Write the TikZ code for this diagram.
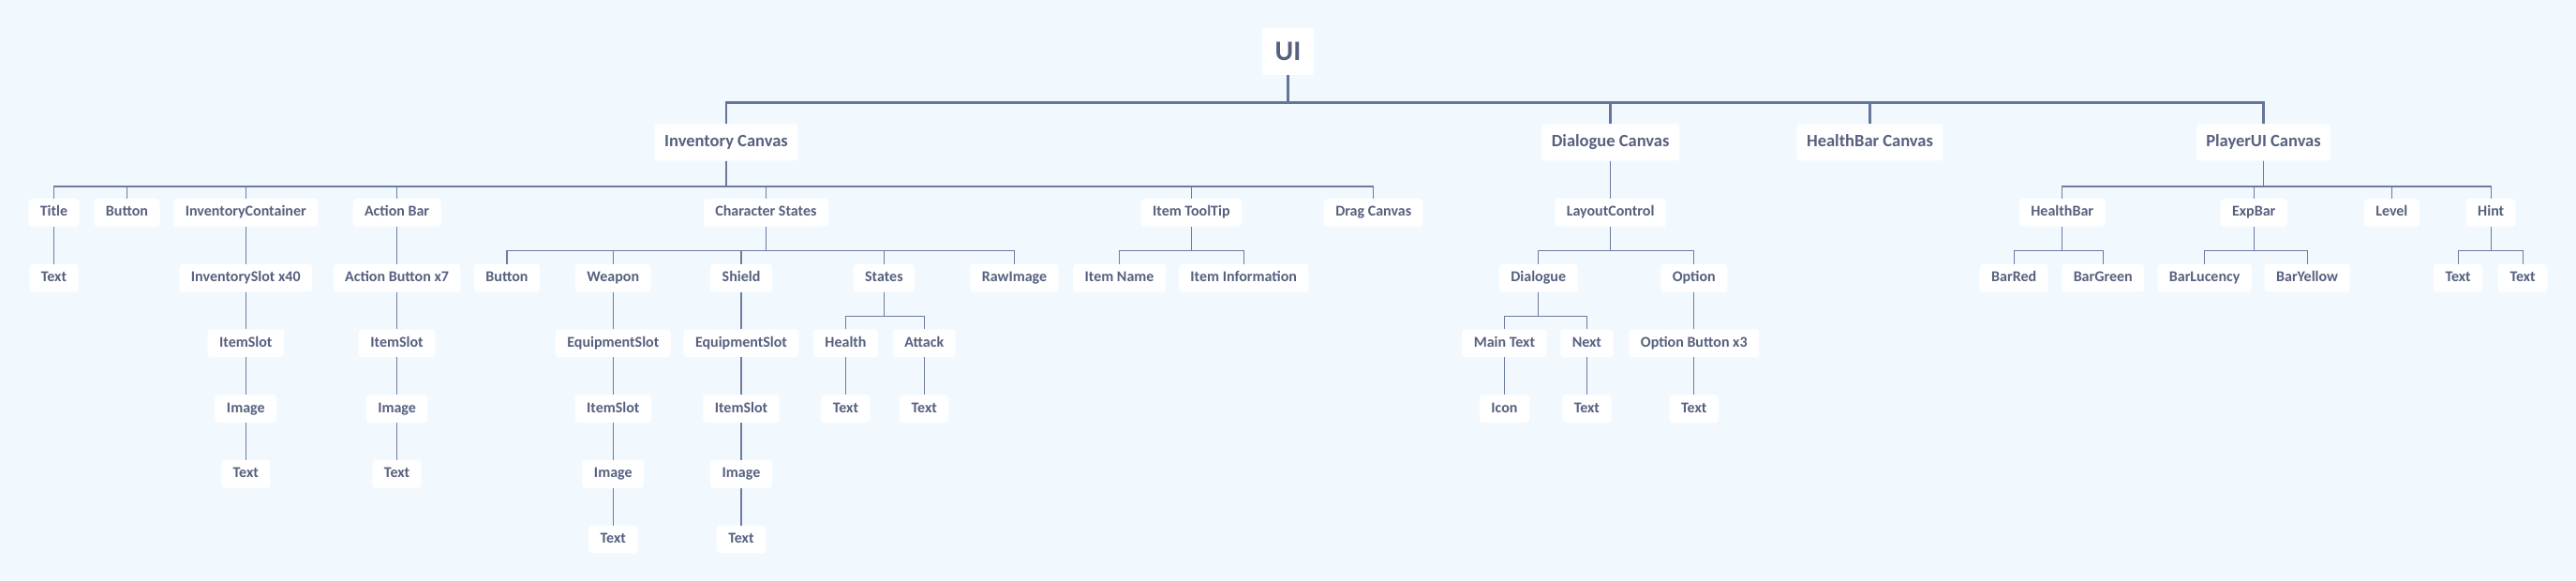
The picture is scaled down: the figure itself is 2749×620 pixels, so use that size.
\documentclass[tikz,border=0pt]{standalone}
\usepackage{fontspec}
\setmainfont{Carlito}
\definecolor{bgc}{HTML}{F1F9FF}
\definecolor{txc}{HTML}{56607F}
\definecolor{lnc}{HTML}{6D7B9E}
\definecolor{lnt}{HTML}{65749A}
\begin{document}
\begin{tikzpicture}[x=1pt,y=1pt,
  box/.style={fill=white,rounded corners=3.5pt,text=txc,font=\fontsize{16}{19}\selectfont\bfseries,
    inner xsep=12.5pt,inner ysep=0pt,minimum height=29.5pt,text height=11pt,text depth=3pt},
  cbox/.style={box,font=\fontsize{18.5}{21}\selectfont\bfseries,inner xsep=10.5pt,minimum height=39pt,text height=13pt,text depth=3.5pt},
  ubox/.style={box,font=\fontsize{30}{34}\selectfont\bfseries,inner xsep=13pt,minimum width=55pt,minimum height=50pt,text height=20pt,text depth=1pt},
  conn/.style={draw=lnc,line width=1.2pt},
  tconn/.style={draw=lnt,line width=2.6pt}]
\fill[bgc] (0,0) rectangle (2749,-620);
\useasboundingbox (0,0) rectangle (2749,-620);
% level 0
\node[ubox] (ui) at (1374.5,-55) {UI};
% level 1
\node[cbox] (inv) at (775,-152) {Inventory Canvas};
\node[cbox] (dlg) at (1718.6,-152) {Dialogue Canvas};
\node[cbox] (hbc) at (1995.5,-152) {HealthBar Canvas};
\node[cbox] (pui) at (2415.5,-152) {PlayerUI Canvas};
% level 2
\node[box] (title) at (57.5,-227) {Title};
\node[box] (btn) at (135.5,-227) {Button};
\node[box] (ic) at (262.3,-227) {InventoryContainer};
\node[box] (ab) at (423.6,-227) {Action Bar};
\node[box] (cs) at (817.4,-227) {Character States};
\node[box] (itt) at (1271.4,-227) {Item ToolTip};
\node[box] (drag) at (1465.7,-227) {Drag Canvas};
\node[box] (lc) at (1718.6,-227) {LayoutControl};
\node[box] (hb) at (2200.7,-227) {HealthBar};
\node[box] (eb) at (2405.2,-227) {ExpBar};
\node[box] (lvl) at (2552.3,-227) {Level};
\node[box] (hint) at (2658.2,-227) {Hint};
% level 3
\node[box] (titletext) at (57.5,-296.7) {Text};
\node[box] (islot) at (262.3,-296.7) {InventorySlot x40};
\node[box] (abtn) at (423.6,-296.7) {Action Button x7};
\node[box] (csbtn) at (541,-296.7) {Button};
\node[box] (weapon) at (654.3,-296.7) {Weapon};
\node[box] (shield) at (791,-296.7) {Shield};
\node[box] (states) at (943.4,-296.7) {States};
\node[box] (raw) at (1082.5,-296.7) {RawImage};
\node[box] (iname) at (1194.6,-296.7) {Item Name};
\node[box] (iinfo) at (1327.2,-296.7) {Item Information};
\node[box] (dia) at (1641.7,-296.7) {Dialogue};
\node[box] (opt) at (1807.8,-296.7) {Option};
\node[box] (barred) at (2149.2,-296.7) {BarRed};
\node[box] (bargreen) at (2244.2,-296.7) {BarGreen};
\node[box] (barluc) at (2352.6,-296.7) {BarLucency};
\node[box] (baryel) at (2462.1,-296.7) {BarYellow};
\node[box] (ht1) at (2623.1,-296.7) {Text};
\node[box] (ht2) at (2692.1,-296.7) {Text};
% level 4
\node[box] (is1) at (262.3,-366.4) {ItemSlot};
\node[box] (is2) at (423.6,-366.4) {ItemSlot};
\node[box] (es1) at (654.3,-366.4) {EquipmentSlot};
\node[box] (es2) at (791,-366.4) {EquipmentSlot};
\node[box] (health) at (902.5,-366.4) {Health};
\node[box] (attack) at (986.3,-366.4) {Attack};
\node[box] (maintext) at (1605.4,-366.4) {Main Text};
\node[box] (next) at (1693.4,-366.4) {Next};
\node[box] (optbtn) at (1807.8,-366.4) {Option Button x3};
% level 5
\node[box] (img1) at (262.3,-436.1) {Image};
\node[box] (img2) at (423.6,-436.1) {Image};
\node[box] (is3) at (654.3,-436.1) {ItemSlot};
\node[box] (is4) at (791,-436.1) {ItemSlot};
\node[box] (htext) at (902.5,-436.1) {Text};
\node[box] (atext) at (986.3,-436.1) {Text};
\node[box] (icon) at (1605.4,-436.1) {Icon};
\node[box] (ntext) at (1693.4,-436.1) {Text};
\node[box] (otext) at (1807.8,-436.1) {Text};
% level 6
\node[box] (t1) at (262.3,-505.8) {Text};
\node[box] (t2) at (423.6,-505.8) {Text};
\node[box] (img3) at (654.3,-505.8) {Image};
\node[box] (img4) at (791,-505.8) {Image};
% level 7
\node[box] (t3) at (654.3,-575.5) {Text};
\node[box] (t4) at (791,-575.5) {Text};
% connectors level 0 -> 1
\foreach \c in {inv,dlg,hbc,pui}
  \draw[tconn] (ui.south) -- ++(0,-29.5) -| (\c.north);
% level 1 -> 2
\foreach \c in {title,btn,ic,ab,cs,itt,drag}
  \draw[conn] (inv.south) -- ++(0,-27.3) -| (\c.north);
\draw[conn] (dlg.south) -- ++(0,-27.3) -| (lc.north);
\foreach \c in {hb,eb,lvl,hint}
  \draw[conn] (pui.south) -- ++(0,-27.3) -| (\c.north);
% level 2 -> 3
\draw[conn] (title.south) -- (titletext.north);
\draw[conn] (ic.south) -- (islot.north);
\draw[conn] (ab.south) -- (abtn.north);
\foreach \c in {csbtn,weapon,shield,states,raw}
  \draw[conn] (cs.south) -- ++(0,-25.5) -| (\c.north);
\foreach \c in {iname,iinfo}
  \draw[conn] (itt.south) -- ++(0,-25.5) -| (\c.north);
\foreach \c in {dia,opt}
  \draw[conn] (lc.south) -- ++(0,-25.5) -| (\c.north);
\foreach \c in {barred,bargreen}
  \draw[conn] (hb.south) -- ++(0,-25.5) -| (\c.north);
\foreach \c in {barluc,baryel}
  \draw[conn] (eb.south) -- ++(0,-25.5) -| (\c.north);
\foreach \c in {ht1,ht2}
  \draw[conn] (hint.south) -- ++(0,-25.5) -| (\c.north);
% level 3 -> 4
\draw[conn] (islot.south) -- (is1.north);
\draw[conn] (abtn.south) -- (is2.north);
\draw[conn] (weapon.south) -- (es1.north);
\draw[conn] (shield.south) -- (es2.north);
\foreach \c in {health,attack}
  \draw[conn] (states.south) -- ++(0,-26) -| (\c.north);
\foreach \c in {maintext,next}
  \draw[conn] (dia.south) -- ++(0,-26) -| (\c.north);
\draw[conn] (opt.south) -- (optbtn.north);
% level 4 -> 5
\draw[conn] (is1.south) -- (img1.north);
\draw[conn] (is2.south) -- (img2.north);
\draw[conn] (es1.south) -- (is3.north);
\draw[conn] (es2.south) -- (is4.north);
\draw[conn] (health.south) -- (htext.north);
\draw[conn] (attack.south) -- (atext.north);
\draw[conn] (maintext.south) -- (icon.north);
\draw[conn] (next.south) -- (ntext.north);
\draw[conn] (optbtn.south) -- (otext.north);
% level 5 -> 6
\draw[conn] (img1.south) -- (t1.north);
\draw[conn] (img2.south) -- (t2.north);
\draw[conn] (is3.south) -- (img3.north);
\draw[conn] (is4.south) -- (img4.north);
% level 6 -> 7
\draw[conn] (img3.south) -- (t3.north);
\draw[conn] (img4.south) -- (t4.north);
\end{tikzpicture}
\end{document}
